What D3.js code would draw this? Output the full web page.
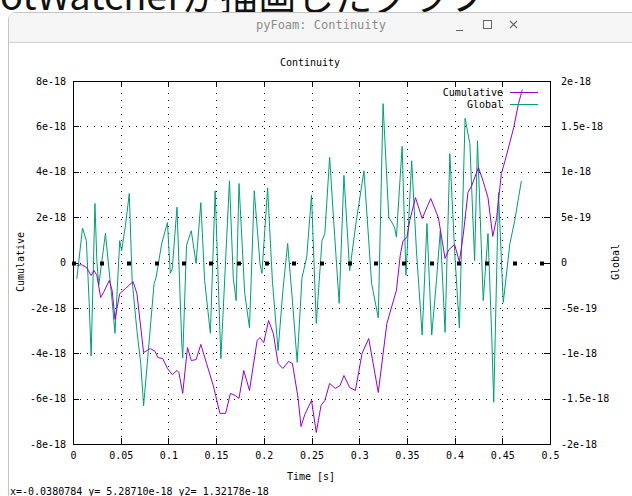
<!DOCTYPE html>
<html>
<head>
<meta charset="utf-8">
<script src="https://cdn.jsdelivr.net/npm/d3@7"></script>
<style>
  body { margin: 0; background: #fff; overflow: hidden; }
  svg { display: block; font-family: "DejaVu Sans Mono", monospace; }
</style>
</head>
<body>
<svg id="chart" width="632" height="496"></svg>
<script>
// tick values (y values are in units of 1e-18)
const xTicks = [0, 0.05, 0.1, 0.15, 0.2, 0.25, 0.3, 0.35, 0.4, 0.45, 0.5];
const xTickLabels = ["0", "0.05", "0.1", "0.15", "0.2", "0.25", "0.3", "0.35", "0.4", "0.45", "0.5"];
const yTicks = [8, 6, 4, 2, 0, -2, -4, -6, -8];
const yTickLabels = ["8e-18", "6e-18", "4e-18", "2e-18", "0", "-2e-18", "-4e-18", "-6e-18", "-8e-18"];
const y2Ticks = [2, 1.5, 1, 0.5, 0, -0.5, -1, -1.5, -2];
const y2TickLabels = ["2e-18", "1.5e-18", "1e-18", "5e-19", "0", "-5e-19", "-1e-18", "-1.5e-18", "-2e-18"];

// Cumulative (left axis, 1e-18)
const cumTime = [0.004, 0.009, 0.014, 0.019, 0.022, 0.025, 0.029, 0.032, 0.038, 0.041, 0.044, 0.049, 0.055,
  0.063, 0.067, 0.074, 0.081, 0.086, 0.089, 0.094, 0.099, 0.104, 0.109, 0.111, 0.115, 0.120, 0.124, 0.129,
  0.134, 0.140, 0.147, 0.154, 0.160, 0.165, 0.170, 0.174, 0.179, 0.185, 0.193, 0.196, 0.200, 0.205, 0.210,
  0.215, 0.220, 0.226, 0.230, 0.236, 0.239, 0.243, 0.250, 0.255, 0.260, 0.264, 0.269, 0.275, 0.280, 0.284,
  0.290, 0.296, 0.303, 0.310, 0.320, 0.329, 0.339, 0.343, 0.346, 0.350, 0.353, 0.359, 0.366, 0.375, 0.383,
  0.390, 0.394, 0.400, 0.405, 0.409, 0.414, 0.418, 0.425, 0.430, 0.435, 0.440, 0.444, 0.449, 0.453, 0.462,
  0.467, 0.471];
const cumValue = [-0.13, -0.10, -0.21, -0.57, -0.35, -0.57, -1.54, -1.32, -0.79, -1.23, -2.51, -1.37, -1.15,
  -0.84, -1.37, -3.97, -3.79, -3.92, -4.19, -4.23, -4.67, -4.94, -4.76, -4.85, -5.77, -3.75, -4.32, -4.28,
  -3.61, -4.45, -5.42, -6.65, -6.65, -5.77, -5.86, -5.99, -4.76, -5.64, -3.44, -3.31, -3.53, -2.56, -3.13,
  -4.45, -4.67, -4.36, -4.45, -5.99, -7.23, -6.70, -6.08, -7.49, -6.30, -6.08, -5.33, -5.55, -5.42, -4.98,
  -5.51, -5.64, -4.01, -3.35, -5.73, -2.69, -1.23, 0.31, 0.97, 1.10, 1.85, 2.86, 1.94, 2.82, 1.98,
  0.18, 0.57, 0.79, 0.04, 1.19, 3.09, 3.39, 4.19, 3.57, 2.86, 1.15, 1.94, 3.92, 4.50, 5.95,
  7.01, 7.62];

// Global (right axis, 1e-18)
const globTime = [0.004, 0.010, 0.014, 0.017, 0.019, 0.023, 0.025, 0.027, 0.034, 0.037, 0.041, 0.044, 0.049,
  0.051, 0.055, 0.059, 0.062, 0.067, 0.071, 0.074, 0.079, 0.085, 0.087, 0.093, 0.099, 0.102, 0.104, 0.109,
  0.114, 0.115, 0.119, 0.124, 0.129, 0.134, 0.138, 0.144, 0.149, 0.154, 0.155, 0.164, 0.168, 0.171, 0.174,
  0.180, 0.185, 0.190, 0.196, 0.198, 0.204, 0.209, 0.215, 0.220, 0.225, 0.230, 0.235, 0.240, 0.245, 0.250,
  0.255, 0.261, 0.264, 0.269, 0.273, 0.279, 0.284, 0.290, 0.297, 0.305, 0.313, 0.320, 0.325, 0.331, 0.337,
  0.339, 0.345, 0.349, 0.355, 0.360, 0.366, 0.371, 0.376, 0.381, 0.385, 0.390, 0.395, 0.400, 0.405, 0.411,
  0.416, 0.421, 0.424, 0.430, 0.435, 0.439, 0.441, 0.446, 0.451, 0.458, 0.463, 0.470];
const globValue = [-0.18, 0.38, 0.24, -0.45, -1.03, 0.65, 0.02, -0.25, 0.32, 0.00, -0.42, -0.78, 0.24,
  0.13, 0.41, 0.76, -0.20, -0.75, -1.11, -1.58, -0.97, -0.23, -0.17, 0.21, 0.44, -0.12, -0.07, 0.61,
  -0.89, -1.05, 0.19, 0.35, -0.01, 0.66, -0.20, -0.78, 0.79, -0.75, -1.06, 0.90, -0.17, -0.42, 0.87,
  -0.34, -0.72, 0.79, -0.01, -0.12, 0.82, -0.20, -0.97, -0.31, 0.21, -0.42, -1.10, -0.17, 0.06, 0.74,
  -0.67, 0.24, 0.32, 1.16, 0.50, -0.45, 0.96, -0.09, 0.46, 1.01, -0.23, -0.61, 1.75, 0.50, 0.39,
  0.28, 1.28, -0.14, 1.12, 0.13, -0.80, 0.43, -0.80, -0.20, 0.35, -0.77, 1.20, 0.13, -0.72, 1.59,
  1.31, 0.02, 1.34, -0.42, 0.32, -0.83, -1.54, 0.77, -0.44, 0.21, 0.46, 0.90];

// black point markers sitting on the zero line
const markerTime = [0.001, 0.030, 0.059, 0.088, 0.116, 0.145, 0.174, 0.203, 0.232, 0.261, 0.290, 0.318,
  0.347, 0.376, 0.405, 0.434, 0.463, 0.492];

const svg = d3.select("#chart");

// ---- surrounding screenshot: caption and window frame ----
svg.append("text")
  .attr("x", 0).attr("y", 10)
  .attr("font-family", "'Noto Sans CJK JP', 'Noto Sans', sans-serif")
  .attr("font-size", 38).attr("fill", "#111")
  .text("otWatcherが描画したグラフ");

svg.append("rect")
  .attr("x", 8.5).attr("y", 12.5).attr("width", 640).attr("height", 500).attr("rx", 7)
  .attr("fill", "#fff").attr("stroke", "#c4c4c4");
svg.append("path")
  .attr("d", "M9,42 V19.5 Q9,13 15.5,13 H632 V42 Z")
  .attr("fill", "#f5f5f5");
svg.append("line")
  .attr("x1", 9).attr("x2", 632).attr("y1", 42.5).attr("y2", 42.5)
  .attr("stroke", "#d2d2d2");
svg.append("text")
  .attr("x", 321).attr("y", 29).attr("text-anchor", "middle")
  .attr("font-size", 12).attr("fill", "#8c8c8c")
  .text("pyFoam: Continuity");
svg.append("line").attr("x1", 456).attr("x2", 463).attr("y1", 30.5).attr("y2", 30.5).attr("stroke", "#666");
svg.append("rect").attr("x", 483.5).attr("y", 20.5).attr("width", 8).attr("height", 8)
  .attr("fill", "none").attr("stroke", "#666");
svg.append("path").attr("d", "M510,21 L517,28 M517,21 L510,28").attr("stroke", "#666").attr("stroke-width", 1.1);

// ---- plot ----
const margin = { left: 73, right: 550, top: 81, bottom: 444 };
const x = d3.scaleLinear().domain([0, 0.5]).range([margin.left, margin.right]);
const y = d3.scaleLinear().domain([-8, 8]).range([margin.bottom, margin.top]);
const y2 = d3.scaleLinear().domain([-2, 2]).range([margin.bottom, margin.top]);

// dotted grid
const grid = svg.append("g").attr("stroke", "#000").attr("stroke-dasharray", "1,6").attr("shape-rendering", "crispEdges");
grid.selectAll(".gx").data(xTicks.slice(1, -1)).join("line")
  .attr("x1", d => Math.round(x(d)) + 0.5).attr("x2", d => Math.round(x(d)) + 0.5)
  .attr("y1", margin.bottom).attr("y2", margin.top);
grid.selectAll(".gy").data(yTicks.slice(1, -1)).join("line")
  .attr("y1", d => Math.round(y(d)) + 0.5).attr("y2", d => Math.round(y(d)) + 0.5)
  .attr("x1", margin.left).attr("x2", margin.right);

function styleAxis(g) {
  g.select(".domain").remove();
  g.selectAll("line").attr("stroke", "#000").attr("shape-rendering", "crispEdges");
  g.selectAll("text").attr("fill", "#000");
  g.attr("font-family", "'DejaVu Sans Mono', monospace").attr("font-size", 10);
}

svg.append("g").attr("transform", `translate(${margin.left},0)`)
  .call(d3.axisLeft(y).tickValues(yTicks).tickFormat((d, i) => yTickLabels[i]).tickSizeInner(-6).tickSizeOuter(0).tickPadding(7))
  .call(styleAxis);
svg.append("g").attr("transform", `translate(${margin.right},0)`)
  .call(d3.axisRight(y2).tickValues(y2Ticks).tickFormat((d, i) => y2TickLabels[i]).tickSizeInner(-6).tickSizeOuter(0).tickPadding(11))
  .call(styleAxis);
svg.append("g").attr("transform", `translate(0,${margin.bottom})`)
  .call(d3.axisBottom(x).tickValues(xTicks).tickFormat((d, i) => xTickLabels[i]).tickSizeInner(-6).tickSizeOuter(0).tickPadding(8))
  .call(styleAxis);
svg.append("g").attr("transform", `translate(0,${margin.top})`)
  .call(d3.axisTop(x).tickValues(xTicks).tickFormat("").tickSizeInner(-6).tickSizeOuter(0))
  .call(styleAxis);

// border
svg.append("rect")
  .attr("x", margin.left + 0.5).attr("y", margin.top + 0.5)
  .attr("width", margin.right - margin.left).attr("height", margin.bottom - margin.top)
  .attr("fill", "none").attr("stroke", "#000").attr("shape-rendering", "crispEdges");

// lines
const cumData = cumTime.map((t, i) => [t, cumValue[i]]);
const globData = globTime.map((t, i) => [t, globValue[i]]);

svg.append("path").datum(globData)
  .attr("fill", "none").attr("stroke", "#009e73").attr("stroke-width", 1)
  .attr("d", d3.line().x(d => x(d[0])).y(d => y2(d[1])));
svg.append("path").datum(cumData)
  .attr("fill", "none").attr("stroke", "#9400d3").attr("stroke-width", 1)
  .attr("d", d3.line().x(d => x(d[0])).y(d => y(d[1])));

svg.append("g").selectAll("rect").data(markerTime).join("rect")
  .attr("x", d => Math.round(x(d)) - 2).attr("y", Math.round(y(0)) - 1.5)
  .attr("width", 4).attr("height", 4).attr("fill", "#000");

// legend
const legend = svg.append("g").attr("font-size", 10);
[["Cumulative", "#9400d3", 92], ["Global", "#009e73", 104]].forEach(([name, col, ly]) => {
  legend.append("text").attr("x", 503).attr("y", ly + 3.5).attr("text-anchor", "end").text(name);
  legend.append("line").attr("x1", 510).attr("x2", 538).attr("y1", ly + 0.5).attr("y2", ly + 0.5)
    .attr("stroke", col);
});

// titles
svg.append("text").attr("x", 310).attr("y", 66).attr("text-anchor", "middle").attr("font-size", 10).text("Continuity");
svg.append("text").attr("x", 311).attr("y", 480).attr("text-anchor", "middle").attr("font-size", 10).text("Time [s]");
svg.append("text").attr("transform", "translate(24,262) rotate(-90)").attr("text-anchor", "middle")
  .attr("font-size", 10).text("Cumulative");
svg.append("text").attr("transform", "translate(619,262) rotate(-90)").attr("text-anchor", "middle")
  .attr("font-size", 10).text("Global");

// status line
svg.append("text").attr("x", 10).attr("y", 495).attr("font-size", 10)
  .text("x=-0.0380784 y= 5.28710e-18 y2= 1.32178e-18");
</script>
</body>
</html>
